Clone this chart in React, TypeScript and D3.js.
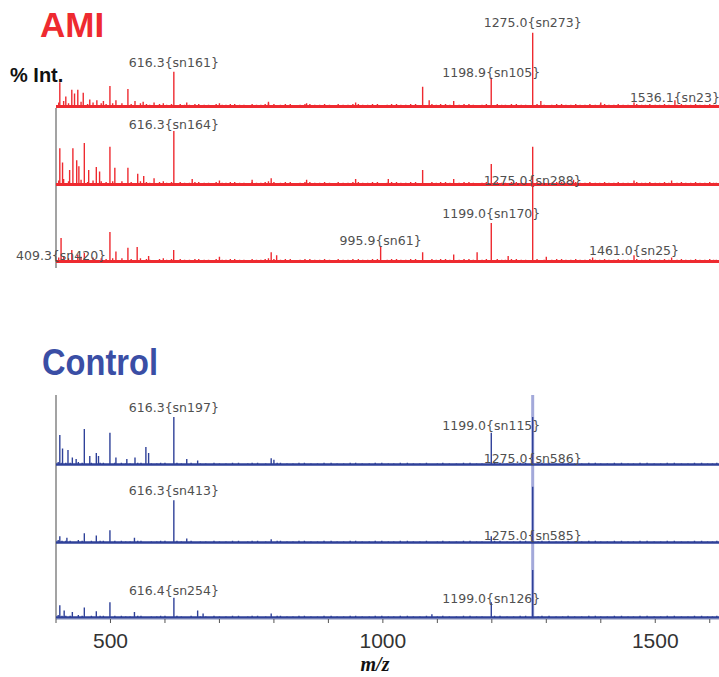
import * as d3 from "d3";

// m/z axis
const mzDomain = [400, 1617];
const mzMajor = [500, 1000, 1500];
const mzMinor = [400, 500, 600, 700, 800, 900, 1000, 1100, 1200, 1300, 1400, 1500, 1600];

type Peak = [number, number]; // [m/z, % intensity]
type Label = { mz: number; at: number; text: string };

// small background peaks shared inside a group
const amiNoise: Peak[] = [
  [405, 6], [414, 8], [423, 5], [446, 7], [458, 4], [468, 6], [483, 5], [492, 4], [504, 5], [521, 5], [538, 4],
  [555, 5], [566, 4], [572, 3], [590, 4], [597, 5], [603, 3], [612, 4], [628, 4], [636, 3], [645, 3], [655, 4],
  [662, 4], [672, 3], [680, 3], [694, 4], [705, 3], [712, 3], [720, 4], [728, 4], [737, 3], [745, 3], [760, 4],
  [768, 3], [776, 3], [784, 4], [790, 5], [800, 4], [812, 3], [821, 4], [830, 4], [848, 3], [857, 4], [866, 4],
  [875, 3], [884, 3], [893, 4], [902, 3], [918, 4], [927, 3], [936, 3], [945, 4], [955, 4], [963, 3], [972, 3],
  [981, 4], [990, 4], [1008, 3], [1016, 4], [1025, 4], [1033, 3], [1042, 3], [1051, 4], [1060, 4], [1090, 4],
  [1098, 3], [1106, 4], [1115, 4], [1123, 3], [1140, 3], [1149, 4], [1158, 4], [1166, 3], [1182, 3], [1190, 4],
  [1210, 4], [1218, 3], [1225, 3], [1236, 4], [1245, 4], [1254, 3], [1262, 3], [1283, 4], [1296, 3], [1310, 3],
  [1319, 4], [1328, 4], [1336, 3], [1345, 3], [1354, 4], [1362, 3], [1371, 3], [1380, 4], [1390, 3], [1398, 3],
  [1407, 4], [1415, 3], [1424, 3], [1432, 4], [1441, 3], [1450, 3], [1466, 4], [1475, 3], [1482, 3], [1490, 4],
  [1500, 3], [1508, 3], [1517, 4], [1525, 3], [1540, 3], [1548, 4], [1556, 3], [1565, 3], [1574, 4], [1582, 3],
  [1591, 3], [1600, 4], [1607, 3], [1612, 3]
];
const controlNoise: Peak[] = [
  [404, 4], [411, 3], [418, 3], [426, 3], [441, 4], [448, 3], [465, 3], [481, 3], [487, 3], [508, 3], [520, 3],
  [528, 2], [536, 2], [550, 3], [556, 3], [575, 2], [585, 2], [592, 3], [600, 3], [622, 3], [630, 2], [648, 3],
  [665, 2], [675, 2], [690, 3], [700, 2], [712, 2], [724, 3], [735, 3], [752, 2], [760, 3], [770, 3], [785, 2],
  [806, 3], [812, 3], [824, 2], [835, 2], [846, 3], [856, 3], [868, 2], [880, 2], [892, 3], [905, 3], [916, 2],
  [928, 2], [940, 3], [950, 3], [962, 2], [975, 2], [986, 3], [998, 3], [1010, 2], [1020, 2], [1032, 3], [1045, 3],
  [1056, 2], [1068, 2], [1080, 3], [1100, 2], [1110, 3], [1122, 2], [1135, 2], [1148, 3], [1160, 3], [1172, 2],
  [1182, 2], [1205, 3], [1215, 3], [1228, 2], [1240, 2], [1252, 3], [1262, 3], [1285, 2], [1292, 3], [1305, 3],
  [1318, 2], [1330, 2], [1340, 3], [1352, 2], [1365, 2], [1378, 3], [1390, 3], [1400, 2], [1412, 2], [1425, 3],
  [1438, 3], [1450, 2], [1460, 2], [1472, 3], [1485, 3], [1498, 2], [1510, 2], [1522, 3], [1535, 3], [1548, 2],
  [1560, 2], [1572, 3], [1585, 3], [1596, 2], [1605, 2], [1613, 3]
];

const ami1: Peak[] = [
  [407, 33], [418, 14], [429, 23], [434, 18], [440, 23], [450, 19], [462, 10], [475, 9], [487, 8], [499, 28],
  [510, 9], [532, 24], [545, 8], [560, 7], [580, 6], [616.3, 47], [640, 6], [700, 5], [790, 7], [860, 5],
  [950, 6], [1073, 27], [1085, 9], [1130, 8], [1198.9, 39], [1275, 99], [1290, 8], [1400, 6], [1461, 6], [1536.1, 9]
];
const ami2: Peak[] = [
  [407, 49], [412, 30], [425, 20], [431, 49], [438, 33], [442, 25], [452, 56], [460, 20], [474, 24], [480, 18],
  [499, 51], [508, 23], [532, 23], [550, 15], [561, 12], [580, 9], [616.3, 72], [650, 8], [700, 6], [760, 7],
  [795, 9], [860, 7], [950, 8], [1010, 8], [1073, 20], [1130, 8], [1199, 28], [1275, 51], [1350, 7], [1461, 6], [1530, 6]
];
const ami3: Peak[] = [
  [409.3, 32], [429, 16], [440, 10], [452, 12], [499, 40], [510, 14], [532, 19], [549, 20], [570, 8], [616, 16],
  [700, 7], [795, 13], [805, 9], [995.9, 20], [1073, 13], [1130, 10], [1173, 13], [1199, 52], [1230, 8], [1275, 105],
  [1300, 7], [1385, 6], [1461, 9], [1530, 6]
];
const ctrl1: Peak[] = [
  [407, 40], [412, 22], [422, 20], [430, 10], [437, 8], [452, 48], [462, 12], [474, 16], [478, 12], [499, 43],
  [510, 10], [530, 8], [545, 10], [565, 24], [570, 16], [616.3, 64], [640, 8], [660, 6], [795, 9], [800, 7],
  [1199, 43], [1275, 64]
];
const ctrl2: Peak[] = [
  [407, 9], [420, 7], [452, 13], [474, 10], [499, 17], [544, 7], [616.3, 57], [640, 6], [795, 5], [1199, 9], [1275, 75]
];
const ctrl3: Peak[] = [
  [407, 17], [415, 10], [430, 8], [452, 14], [474, 9], [499, 21], [544, 8], [616.4, 27], [660, 10], [670, 6],
  [795, 6], [1090, 5], [1199, 21], [1275, 64]
];

const ami1Labels: Label[] = [
  { mz: 616.3, at: 53, text: "616.3{sn161}" },
  { mz: 1275.0, at: 107, text: "1275.0{sn273}" },
  { mz: 1198.9, at: 40, text: "1198.9{sn105}" },
  { mz: 1536.1, at: 7, text: "1536.1{sn23}" }
];
const ami2Labels: Label[] = [
  { mz: 616.3, at: 75, text: "616.3{sn164}" },
  { mz: 1275.0, at: 0, text: "1275.0{sn288}" }
];
const ami3Labels: Label[] = [
  { mz: 409.3, at: 3, text: "409.3{sn420}" },
  { mz: 995.9, at: 23, text: "995.9{sn61}" },
  { mz: 1199.0, at: 59, text: "1199.0{sn170}" },
  { mz: 1461.0, at: 9, text: "1461.0{sn25}" }
];
const ctrl1Labels: Label[] = [
  { mz: 616.3, at: 71, text: "616.3{sn197}" },
  { mz: 1199.0, at: 47, text: "1199.0{sn115}" },
  { mz: 1275.0, at: 3, text: "1275.0{sn586}" }
];
const ctrl2Labels: Label[] = [
  { mz: 616.3, at: 64, text: "616.3{sn413}" },
  { mz: 1275.0, at: 4, text: "1275.0{sn585}" }
];
const ctrl3Labels: Label[] = [
  { mz: 616.4, at: 31, text: "616.4{sn254}" },
  { mz: 1199.0, at: 20, text: "1199.0{sn126}" }
];

const W = 719;
const H = 677;
const red = "#ee2a30";
const blue = "#2f4199";
const panelH = 75;

const x = d3.scaleLinear().domain(mzDomain).range([56, W]);

const panels = [
  { base: 107, peaks: ami1, noise: amiNoise, labels: ami1Labels, color: red, bw: 3.2 },
  { base: 185, peaks: ami2, noise: amiNoise, labels: ami2Labels, color: red, bw: 3.2 },
  { base: 262, peaks: ami3, noise: amiNoise, labels: ami3Labels, color: red, bw: 3.2 },
  { base: 465, peaks: ctrl1, noise: controlNoise, labels: ctrl1Labels, color: blue, bw: 2.4 },
  { base: 543, peaks: ctrl2, noise: controlNoise, labels: ctrl2Labels, color: blue, bw: 2.4 },
  { base: 618, peaks: ctrl3, noise: controlNoise, labels: ctrl3Labels, color: blue, bw: 2.4 }
];

function Panel({ p }: { p: (typeof panels)[number] }) {
  const y = d3.scaleLinear().domain([0, 100]).range([p.base, p.base - panelH]);
  const all = [...p.noise, ...p.peaks];
  return (
    <g>
      <g stroke={p.color} strokeWidth={1.4}>
        {all.map(([mz, v], i) => (
          <line key={i} x1={x(mz)} x2={x(mz)} y1={p.base} y2={y(v)} />
        ))}
      </g>
      <line x1={x(mzDomain[0])} x2={W} y1={p.base - 0.5} y2={p.base - 0.5} stroke={p.color} strokeWidth={p.bw} />
      <g fontFamily="DejaVu Sans, sans-serif" fontSize={12.5} fill="#505050" textAnchor="middle">
        {p.labels.map((l, i) => (
          <text key={i} x={x(l.mz)} y={y(l.at)}>
            {l.text}
          </text>
        ))}
      </g>
    </g>
  );
}

export default function App() {
  const axisY = 619;
  const x0 = x(mzDomain[0]);
  return (
    <svg width={W} height={H} style={{ position: "absolute", left: 0, top: 0, background: "#fff" }}>
      {/* marker line through the control spectra */}
      <line x1={x(1275)} x2={x(1275)} y1={395} y2={axisY} stroke="#a3a9da" strokeWidth={3} />

      <line x1={x0} x2={x0} y1={108} y2={268} stroke="#666" strokeWidth={1.2} />
      <line x1={x0} x2={x0} y1={395} y2={axisY} stroke="#666" strokeWidth={1.2} />

      {panels.map((p, i) => (
        <Panel key={i} p={p} />
      ))}

      <line x1={x0} x2={W} y1={axisY} y2={axisY} stroke="#8089b8" strokeWidth={1.2} />
      <g stroke="#555" strokeWidth={1}>
        {mzMinor.map((t) => (
          <line key={t} x1={x(t)} x2={x(t)} y1={axisY} y2={axisY + 4} />
        ))}
      </g>
      <g fontFamily="Liberation Sans, Arial, sans-serif" fontSize={21} fill="#333" textAnchor="middle">
        {mzMajor.map((t) => (
          <text key={t} x={x(t)} y={648}>
            {t}
          </text>
        ))}
      </g>
      <text x={375} y={671} textAnchor="middle" fontFamily="Liberation Serif, serif" fontStyle="italic" fontWeight="bold" fontSize={20} fill="#111">
        m/z
      </text>

      <text x={40} y={37} fontFamily="Liberation Sans, Arial, sans-serif" fontWeight="bold" fontSize={35} fill={red}>
        AMI
      </text>
      <text x={42} y={375} fontFamily="Liberation Sans, Arial, sans-serif" fontWeight="bold" fontSize={36} fill="#3a4ea5" textLength={116} lengthAdjust="spacingAndGlyphs">
        Control
      </text>
      <text x={10} y={82} fontFamily="Liberation Sans, Arial, sans-serif" fontWeight="bold" fontSize={20} fill="#111">
        % Int.
      </text>
    </svg>
  );
}
